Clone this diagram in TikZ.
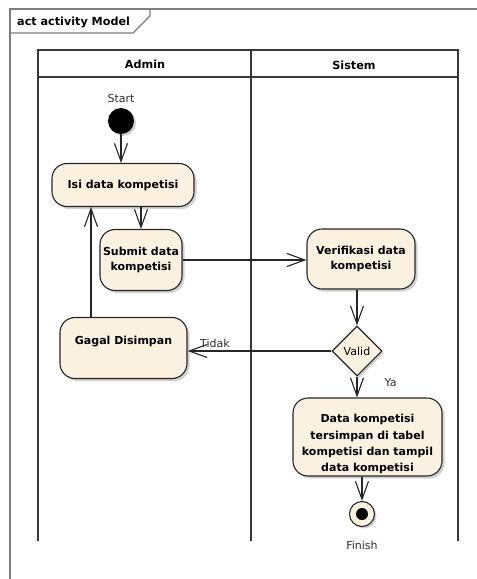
\documentclass[tikz,border=0pt]{standalone}
\usepackage{fontspec}
\setmainfont{DejaVu Sans}
\usepackage{tikz}
\usetikzlibrary{shapes.geometric, arrows.meta, positioning, shadows}

\definecolor{actfill}{RGB}{251,241,225}
\definecolor{framegray}{RGB}{125,125,125}
\definecolor{lanegray}{RGB}{55,55,55}
\definecolor{labelgray}{RGB}{45,45,45}

\begin{document}
\begin{tikzpicture}[
    x=1pt, y=-1pt,
    actbox/.style={rectangle, draw=black!85, line width=1.1pt, rounded corners=15pt, fill=actfill, align=center,
        font=\fontsize{11}{15}\selectfont\bfseries, inner sep=2pt,
        drop shadow={shadow xshift=2.5pt, shadow yshift=-2.5pt, fill=black!30, opacity=0.6}},
    decision/.style={diamond, aspect=1, draw=black!85, line width=1.1pt, fill=actfill, minimum size=50pt, inner sep=0pt,
        font=\fontsize{11}{12}\selectfont,
        drop shadow={shadow xshift=2pt, shadow yshift=-2pt, fill=black!30, opacity=0.6}},
    initnode/.style={circle, fill=black, minimum size=26pt, inner sep=0pt,
        drop shadow={shadow xshift=2pt, shadow yshift=-2pt, fill=black!30, opacity=0.6}},
    finalnode/.style={circle, draw=black!85, line width=1.1pt, fill=actfill, minimum size=25pt, inner sep=0pt,
        path picture={\fill[black] (path picture bounding box.center) circle (6pt);},
        drop shadow={shadow xshift=2pt, shadow yshift=-2pt, fill=black!30, opacity=0.6}},
    txt/.style={font=\fontsize{11}{12}\selectfont, text=labelgray, inner sep=0pt},
    lanehead/.style={font=\fontsize{11.2}{12}\selectfont\bfseries, inner sep=0pt},
    lane/.style={draw=lanegray, line width=1.8pt},
    flow/.style={-{Straight Barb[length=18pt, width=13pt, line width=1.1pt]}, line width=1.1pt, black!85}
]
\useasboundingbox (0,0) rectangle (477,579);

% Frame
\draw[framegray, line width=1.3pt] (477,9) -- (10,9) -- (10,579);
\draw[framegray, line width=1.1pt] (10,33) -- (133,33) -- (150,16) -- (150,9);
\node[lanehead, anchor=west] (frametitle) at (17,22) {act activity Model};

% Swimlanes
\draw[lane] (38,541) -- (38,50) -- (458,50) -- (458,541);
\draw[lane] (38,77) -- (458,77);
\draw[lane] (251,50) -- (251,541);
\node[lanehead] (laneadmin) at (145,64) {Admin};
\node[lanehead] (lanesistem) at (354,65) {Sistem};

% Admin
\node[initnode] (start) at (121,121) {};
\node[txt, above=5pt of start] (startlbl) {Start};
\node[actbox, minimum width=142pt, minimum height=43pt] (isi) at (123,185) {Isi data kompetisi};
\node[actbox, minimum width=82pt, minimum height=61pt] (submit) at (141,260) {Submit data\\kompetisi};
\node[actbox, minimum width=127pt, minimum height=61pt] (gagal) at (123.5,348) {\raisebox{6pt}[\height][\depth]{Gagal Disimpan}};

% Sistem
\node[actbox, minimum width=108pt, minimum height=60pt] (verif) at (361,259) {Verifikasi data\\kompetisi};
\node[decision] (valid) at (357,351) {Valid};
\node[actbox, minimum width=149pt, minimum height=78pt] (simpan) at (367.5,437)
    {\raisebox{-7pt}[\height][\depth]{\shortstack{Data kompetisi\\[2.4pt]tersimpan di tabel\\[2.4pt]kompetisi dan tampil\\[2.4pt]data kompetisi}}};
\node[finalnode] (finish) at (362,514) {};
\node[txt, below=14pt of finish] (finishlbl) {Finish};

% Arrows
\draw[flow] (start) -- (start |- isi.north);
\draw[flow] (submit.north |- isi.south) -- (submit.north);
\draw[flow] (submit.east) -- (submit.east -| verif.west);
\draw[flow] (valid.north |- verif.south) -- (valid.north);
\draw[flow] (valid.west) -- (valid.west -| gagal.east)
    node[txt, pos=0.81, above=3pt] (tidak) {Tidak};
\draw[flow] (valid.south) -- (valid.south |- simpan.north)
    node[txt, pos=0.3, right=27pt] (ya) {Ya};
\draw[flow] (finish.north |- simpan.south) -- (finish.north);
\draw[flow] ([xshift=-32.5pt]gagal.north) -- ([xshift=-32.5pt]gagal.north |- isi.south);

\end{tikzpicture}
\end{document}
